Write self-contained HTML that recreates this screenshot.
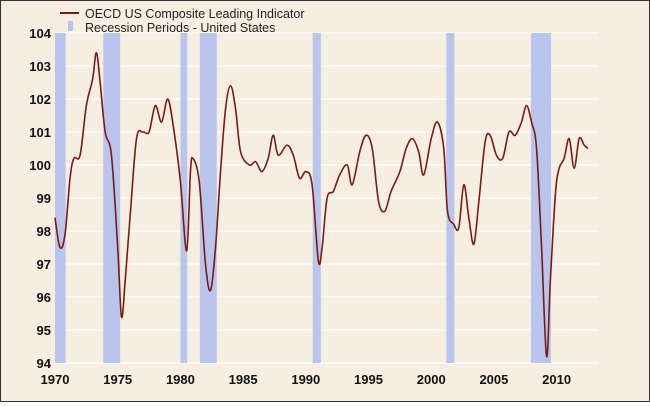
<!DOCTYPE html>
<html><head><meta charset="utf-8"><style>
body{margin:0;background:#fff}
#c{width:650px;height:402px;box-sizing:border-box;border:1px solid #333;background:#f6eee1;position:relative}
svg text{font-family:"Liberation Sans",sans-serif}
</style></head><body>
<div id="c">
<svg id="s" width="648" height="400"></svg>
</div>
<script>
const yTicks=[94,95,96,97,98,99,100,101,102,103,104];
const xTicks=[1970,1975,1980,1985,1990,1995,2000,2005,2010];
const recStart=[1970.0,1973.85,1980.0,1981.55,1990.55,2001.2,2007.95];
const recEnd=[1970.85,1975.2,1980.55,1982.9,1991.2,2001.85,2009.55];
const years=[1970.0,1970.4,1970.8,1971.2,1971.5,1972.0,1972.5,1973.0,1973.3,1973.6,1974.0,1974.5,1975.0,1975.3,1975.6,1976.0,1976.5,1977.0,1977.5,1978.0,1978.5,1979.0,1979.5,1980.0,1980.5,1980.8,1981.0,1981.5,1982.0,1982.4,1982.8,1983.2,1983.6,1984.0,1984.4,1984.8,1985.5,1986.0,1986.5,1987.0,1987.4,1987.8,1988.5,1989.0,1989.5,1990.0,1990.5,1991.0,1991.3,1991.7,1992.2,1992.7,1993.3,1993.7,1994.3,1994.8,1995.3,1995.8,1996.3,1996.8,1997.5,1998.0,1998.5,1999.0,1999.4,2000.0,2000.5,2001.0,2001.3,2001.8,2002.2,2002.6,2003.0,2003.4,2003.8,2004.3,2004.7,2005.2,2005.7,2006.2,2006.7,2007.2,2007.6,2008.0,2008.4,2008.8,2009.2,2009.5,2009.9,2010.2,2010.6,2011.0,2011.4,2011.8,2012.2,2012.5];
const values=[98.4,97.5,97.9,99.6,100.2,100.3,101.8,102.6,103.4,102.5,101.0,100.3,97.5,95.4,96.5,98.5,100.8,101.0,101.0,101.8,101.3,102.0,101.0,99.5,97.4,99.8,100.2,99.5,97.0,96.2,97.5,99.8,101.7,102.4,101.7,100.4,100.0,100.1,99.8,100.2,100.9,100.3,100.6,100.3,99.6,99.8,99.4,97.1,97.5,99.0,99.2,99.7,100.0,99.4,100.4,100.9,100.5,98.9,98.6,99.2,99.8,100.5,100.8,100.4,99.7,100.8,101.3,100.5,98.6,98.2,98.1,99.4,98.4,97.6,98.9,100.7,100.9,100.3,100.2,101.0,100.9,101.3,101.8,101.3,100.5,97.5,94.2,96.5,99.1,99.9,100.2,100.8,99.9,100.8,100.6,100.5];
const NS="http://www.w3.org/2000/svg";
const s=document.getElementById('s');
const X0=54,X1=597,Y0=362,Y1=32,yr0=1970,yr1=2013.3;
const x=v=>X0+(v-yr0)/(yr1-yr0)*(X1-X0);
const y=v=>Y0-(v-94)/10*(Y0-Y1);
function mk(t,a){const e=document.createElementNS(NS,t);for(const k in a)e.setAttribute(k,a[k]);s.appendChild(e);return e;}
yTicks.forEach(t=>{
 const l=mk('line',{x1:X0,x2:X1,y1:y(t),y2:y(t),stroke:'#fff','stroke-width':1.5,'stroke-opacity':0.8});
 
 
 const tx=mk('text',{x:X0-4,y:y(t)+5,'text-anchor':'end','font-size':13,'font-weight':'bold',fill:'#111'});
 tx.textContent=t;
 
 
});
for(let i=0;i<recStart.length;i++){
 const r=mk('rect',{x:x(recStart[i]),y:Y1,width:x(recEnd[i])-x(recStart[i]),height:Y0-Y1,fill:'#b9c5ec'});
 
 
}
xTicks.forEach(t=>{
 const tx=mk('text',{x:x(t),y:383,'text-anchor':'middle','font-size':13,'font-weight':'bold',fill:'#111'});
 tx.textContent=t;
 
 
});
let pts=years.map((v,i)=>[x(v),y(values[i])]);
let d='M'+pts[0][0]+','+pts[0][1];
for(let i=0;i<pts.length-1;i++){
 const p0=pts[Math.max(0,i-1)],p1=pts[i],p2=pts[i+1],p3=pts[Math.min(pts.length-1,i+2)];
 const c1=[p1[0]+(p2[0]-p0[0])/6,p1[1]+(p2[1]-p0[1])/6],c2=[p2[0]-(p3[0]-p1[0])/6,p2[1]-(p3[1]-p1[1])/6];
 d+=` C${c1[0]},${c1[1]} ${c2[0]},${c2[1]} ${p2[0]},${p2[1]}`;
}
const ln=mk('path',{d:d,fill:'none',stroke:'#7b1a12','stroke-width':1.6});


const l1=mk('line',{x1:59,x2:78,y1:12,y2:12,stroke:'#7b1a12','stroke-width':2});


const t1=mk('text',{x:84,y:17,'font-size':12.5,fill:'#222'});t1.textContent='OECD US Composite Leading Indicator';


const r1=mk('rect',{x:67,y:20,width:5,height:10,fill:'#b9c5ec'});


const t2=mk('text',{x:84,y:31,'font-size':12.5,fill:'#222'});t2.textContent='Recession Periods - United States';


</script>
</body></html>
